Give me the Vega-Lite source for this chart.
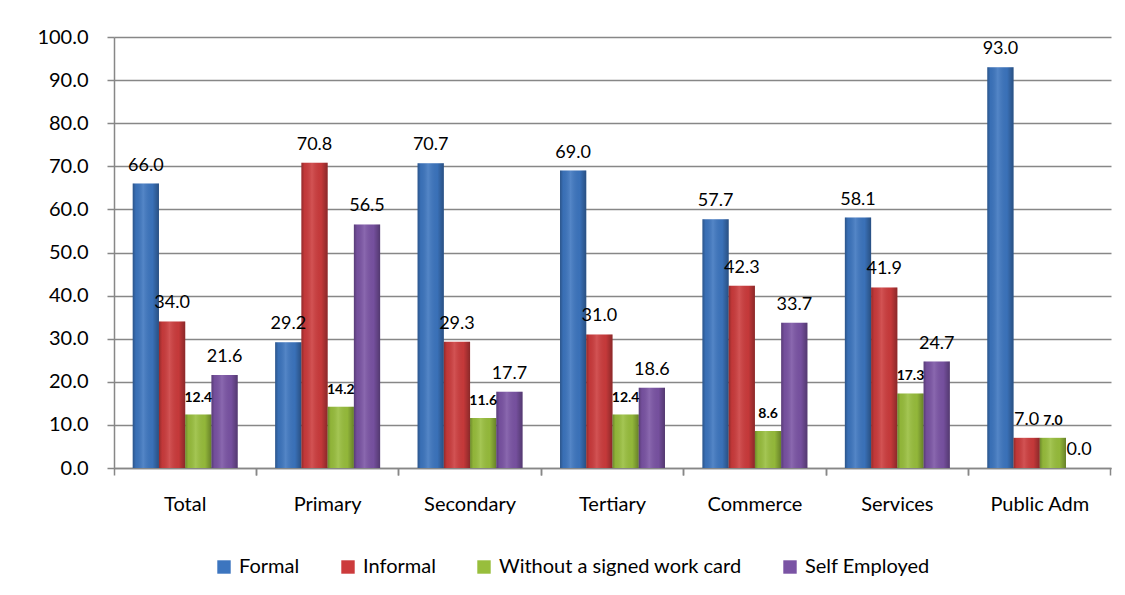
{
  "$schema": "https://vega.github.io/schema/vega-lite/v6.json",
  "width": 997,
  "height": 431,
  "autosize": "none",
  "padding": {"left": 114, "top": 37, "right": 14, "bottom": 127},
  "background": "white",
  "config": {"font": "Lato", "view": {"stroke": null}},
  "data": {
    "values": [
      {"category": "Total", "series": "Formal", "value": 66.0},
      {"category": "Total", "series": "Informal", "value": 34.0},
      {"category": "Total", "series": "Without a signed work card", "value": 12.4},
      {"category": "Total", "series": "Self Employed", "value": 21.6},
      {"category": "Primary", "series": "Formal", "value": 29.2},
      {"category": "Primary", "series": "Informal", "value": 70.8},
      {"category": "Primary", "series": "Without a signed work card", "value": 14.2},
      {"category": "Primary", "series": "Self Employed", "value": 56.5},
      {"category": "Secondary", "series": "Formal", "value": 70.7},
      {"category": "Secondary", "series": "Informal", "value": 29.3},
      {"category": "Secondary", "series": "Without a signed work card", "value": 11.6},
      {"category": "Secondary", "series": "Self Employed", "value": 17.7},
      {"category": "Tertiary", "series": "Formal", "value": 69.0},
      {"category": "Tertiary", "series": "Informal", "value": 31.0},
      {"category": "Tertiary", "series": "Without a signed work card", "value": 12.4},
      {"category": "Tertiary", "series": "Self Employed", "value": 18.6},
      {"category": "Commerce", "series": "Formal", "value": 57.7},
      {"category": "Commerce", "series": "Informal", "value": 42.3},
      {"category": "Commerce", "series": "Without a signed work card", "value": 8.6},
      {"category": "Commerce", "series": "Self Employed", "value": 33.7},
      {"category": "Services", "series": "Formal", "value": 58.1},
      {"category": "Services", "series": "Informal", "value": 41.9},
      {"category": "Services", "series": "Without a signed work card", "value": 17.3},
      {"category": "Services", "series": "Self Employed", "value": 24.7},
      {"category": "Public Adm", "series": "Formal", "value": 93.0},
      {"category": "Public Adm", "series": "Informal", "value": 7.0},
      {"category": "Public Adm", "series": "Without a signed work card", "value": 7.0},
      {"category": "Public Adm", "series": "Self Employed", "value": 0.0}
    ]
  },
  "encoding": {
    "xOffset": {
      "field": "series",
      "type": "nominal",
      "sort": ["Formal", "Informal", "Without a signed work card", "Self Employed"],
      "scale": {"paddingInner": 0, "paddingOuter": 0}
    },
    "y": {
      "field": "value",
      "type": "quantitative",
      "scale": {"domain": [0, 100], "nice": false},
      "axis": {
        "title": null,
        "values": [0, 10, 20, 30, 40, 50, 60, 70, 80, 90, 100],
        "format": ".1f",
        "labelFontSize": 20,
        "labelColor": "black",
        "tickSize": 7,
        "tickColor": "#878787",
        "tickWidth": 1.5,
        "domainColor": "#878787",
        "domainWidth": 1.5,
        "gridColor": "#878787",
        "gridWidth": 1.5,
        "labelPadding": 19
      }
    }
  },
  "resolve": {"axis": {"x": "independent"}},
  "layer": [
    {
      "mark": {"type": "bar"},
      "encoding": {
        "x": {
          "field": "category",
          "type": "nominal",
          "sort": ["Total", "Primary", "Secondary", "Tertiary", "Commerce", "Services", "Public Adm"],
          "scale": {"paddingInner": 0.263, "paddingOuter": 0.1315},
          "axis": {
            "orient": "bottom",
            "title": null,
            "labelAngle": 0,
            "labelFontSize": 20,
            "labelColor": "black",
            "ticks": false,
            "tickSize": 0,
            "labelPadding": 26,
            "domainColor": "#878787",
            "domainWidth": 1.5,
            "grid": false
          }
        },
        "color": {
          "field": "series",
          "type": "nominal",
          "sort": ["Formal", "Informal", "Without a signed work card", "Self Employed"],
          "scale": {
            "domain": ["Formal", "Informal", "Without a signed work card", "Self Employed"],
            "range": ["#3C75BF", "#CC3B3C", "#98BE3C", "#7A53A4"]
          },
          "legend": {
            "orient": "none",
            "legendX": 100,
            "legendY": 520,
            "direction": "horizontal",
            "title": null,
            "symbolType": "square",
            "symbolSize": 180,
            "symbolStrokeWidth": 0,
            "labelFontSize": 20,
            "labelColor": "black",
            "labelOffset": 5,
            "labelLimit": 0,
            "columnPadding": 38
          }
        }
      }
    },
    {
      "transform": [{"filter": "datum.value > 0"}],
      "mark": {
        "type": "bar",
        "fill": {
          "gradient": "linear",
          "x1": 0, "y1": 0, "x2": 1, "y2": 0,
          "stops": [
            {"offset": 0, "color": "rgba(0,0,0,0.28)"},
            {"offset": 0.12, "color": "rgba(0,0,0,0.05)"},
            {"offset": 0.4, "color": "rgba(255,255,255,0.12)"},
            {"offset": 0.75, "color": "rgba(0,0,0,0.04)"},
            {"offset": 1, "color": "rgba(0,0,0,0.32)"}
          ]
        }
      },
      "encoding": {
        "x": {
          "field": "category",
          "type": "nominal",
          "sort": ["Total", "Primary", "Secondary", "Tertiary", "Commerce", "Services", "Public Adm"],
          "axis": {
            "orient": "bottom",
            "title": null,
            "labels": false,
            "domain": false,
            "grid": false,
            "ticks": true,
            "tickSize": 7,
            "tickColor": "#878787",
            "tickWidth": 1.5,
            "bandPosition": -0.178
          }
        }
      }
    },
    {
      "transform": [{"filter": "datum.series !== 'Without a signed work card'"}],
      "mark": {"type": "text", "baseline": "alphabetic", "dy": -13, "fontSize": 18, "color": "black"},
      "encoding": {
        "x": {
          "field": "category",
          "type": "nominal",
          "sort": ["Total", "Primary", "Secondary", "Tertiary", "Commerce", "Services", "Public Adm"],
          "axis": {
            "orient": "bottom",
            "title": null,
            "labels": false,
            "domain": false,
            "grid": false,
            "ticks": true,
            "tickSize": 7,
            "tickColor": "#878787",
            "tickWidth": 1.5,
            "bandPosition": 1.178
          }
        },
        "text": {"field": "value", "type": "quantitative", "format": ".1f"}
      }
    },
    {
      "transform": [{"filter": "datum.series === 'Without a signed work card'"}],
      "mark": {"type": "text", "baseline": "alphabetic", "dy": -13, "fontSize": 14, "fontWeight": "bold", "color": "black"},
      "encoding": {
        "x": {
          "field": "category",
          "type": "nominal",
          "sort": ["Total", "Primary", "Secondary", "Tertiary", "Commerce", "Services", "Public Adm"],
          "axis": null
        },
        "text": {"field": "value", "type": "quantitative", "format": ".1f"}
      }
    }
  ]
}
